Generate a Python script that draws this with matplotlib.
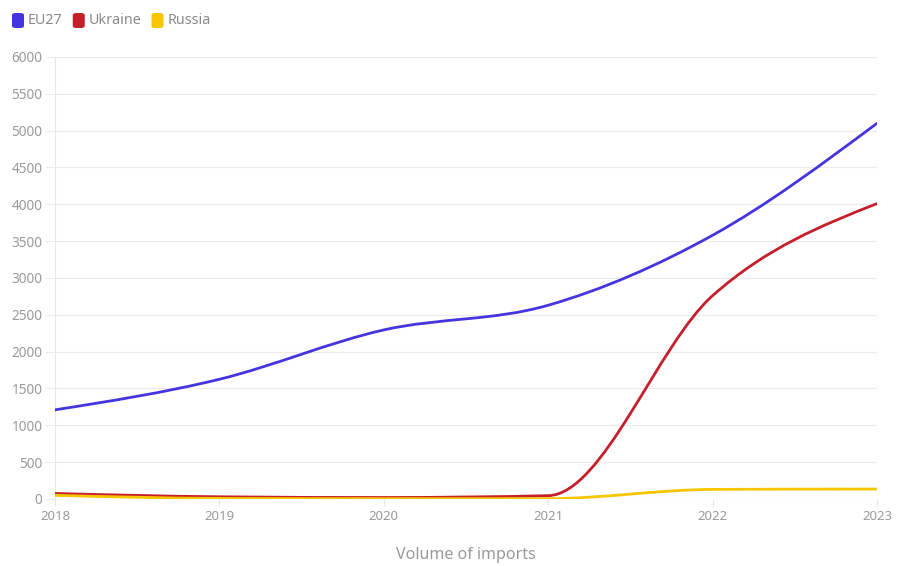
import numpy as np
import matplotlib.pyplot as plt
from matplotlib.path import Path
from matplotlib.patches import PathPatch, FancyBboxPatch

plt.rcParams['font.family'] = ['Noto Sans', 'DejaVu Sans']

years = [2018, 2019, 2020, 2021, 2022, 2023]
eu27 = [1210, 1625, 2295, 2630, 3580, 5100]
ukraine = [75, 30, 20, 45, 2760, 4010]
russia = [50, 8, 5, 5, 130, 135]

series = [("EU27", eu27, "#4535e0"),
          ("Ukraine", ukraine, "#c41f2b"),
          ("Russia", russia, "#f7c600")]


def monotone_path(x, y):
    # courbe monotone façon d3 (curveMonotoneX), tracée en Bézier cubiques
    x = np.asarray(x, float)
    y = np.asarray(y, float)
    n = len(x)
    h = np.diff(x)
    s = np.diff(y) / h
    t = np.zeros(n)
    for i in range(1, n - 1):
        p = (s[i - 1] * h[i] + s[i] * h[i - 1]) / (h[i - 1] + h[i])
        t[i] = (np.sign(s[i - 1]) + np.sign(s[i])) * min(abs(s[i - 1]), abs(s[i]), 0.5 * abs(p))
    t[0] = (3 * s[0] - t[1]) / 2
    t[-1] = (3 * s[-1] - t[-2]) / 2
    verts = [(x[0], y[0])]
    codes = [Path.MOVETO]
    for i in range(n - 1):
        d = h[i] / 3
        verts += [(x[i] + d, y[i] + d * t[i]), (x[i + 1] - d, y[i + 1] - d * t[i + 1]), (x[i + 1], y[i + 1])]
        codes += [Path.CURVE4] * 3
    return Path(verts, codes)


fig = plt.figure(figsize=(8.98, 5.66), dpi=100)
ax = fig.add_axes([0.0612, 0.1184, 0.9154, 0.7809])

for name, vals, col in series:
    ax.add_patch(PathPatch(monotone_path(years, vals), facecolor="none", edgecolor=col,
                           lw=2.0, capstyle="round", joinstyle="round", zorder=3))

ax.set_xlim(2018, 2023)
ax.set_ylim(0, 6000)
ax.set_yticks(range(0, 6001, 500))
ax.set_xticks(years)
ax.grid(axis="y", color="#ebebeb", lw=0.8)
ax.set_axisbelow(True)
for sp in ["top", "right", "bottom"]:
    ax.spines[sp].set_visible(False)
ax.spines["left"].set_color("#e6e6e6")
ax.spines["left"].set_linewidth(0.8)
ax.tick_params(axis="y", length=7, color="#ebebeb", labelcolor="#9a9a9a", labelsize=9.8, pad=2)
ax.tick_params(axis="x", length=5, color="#e6e6e6", labelcolor="#9a9a9a", labelsize=9.5, pad=3)
ax.set_xlabel("Volume of imports", color="#999999", fontsize=11.5, labelpad=17)

# légende en haut à gauche
lx = 12
for name, vals, col in series:
    fig.patches.append(FancyBboxPatch((lx / 898, 1 - 28 / 566), 12 / 898, 15 / 566,
                                      boxstyle="round,pad=0,rounding_size=0.004",
                                      transform=fig.transFigure, facecolor=col, edgecolor="none"))
    t = fig.text((lx + 16) / 898, 1 - 20.5 / 566, name, color="#8a8a8a", fontsize=10.3, va="center")
    fig.canvas.draw()
    bb = t.get_window_extent()
    lx = bb.x1 + 10

fig.savefig("out.png", dpi=100)
